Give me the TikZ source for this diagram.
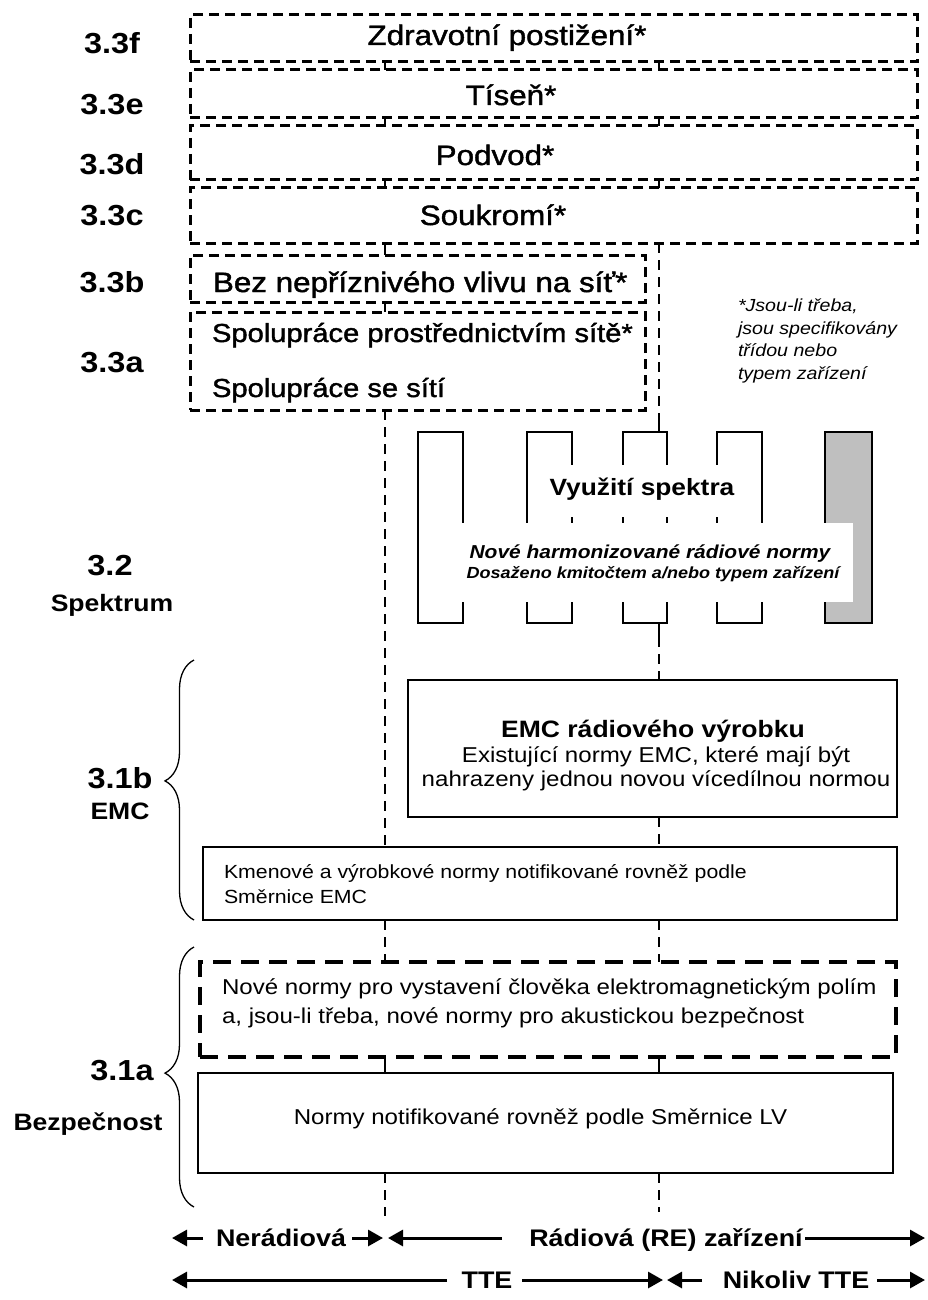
\documentclass[tikz,border=0pt]{standalone}
\usepackage{fontspec}
\setmainfont{Liberation Sans}[FakeStretch=1.12]
\newfontfamily\medfont{Liberation Sans}[FakeStretch=1.12, FakeBold=1.5]
\usetikzlibrary{arrows.meta,decorations.pathreplacing,calc}
\newcommand\fsz[1]{\fontsize{#1}{#1}\selectfont}
\begin{document}
\begin{tikzpicture}[x=1pt,y=-1pt,
  base/.style={inner sep=0pt, outer sep=0pt},
  dbox/.style={base, draw, line width=3pt, dash pattern=on 10pt off 6pt},
  nbox/.style={base, draw, line width=3.2pt, dash pattern=on 18pt off 10pt},
  sbox/.style={base, draw, line width=2.4pt},
  srect/.style={base, draw, line width=2.4pt},
  cover/.style={base, fill=white},
  txt/.style={base, anchor=base},
  ltxt/.style={base, anchor=base west},
  lab/.style={base, anchor=base, font=\bfseries\fsz{29}},
  labw/.style={base, anchor=base, font=\bfseries\fsz{23.7}},
  vdash/.style={line width=2.4pt, dash pattern=on 10pt off 7pt},
  vsolid/.style={line width=2.4pt},
  arr/.style={line width=3pt, -{Triangle[length=15pt,width=16pt]}},
  brc/.style={decorate, decoration={brace, amplitude=29pt, aspect=#1}, line width=1.3pt},
]
\fill[white] (0,0) rectangle (928,1300);
\useasboundingbox (0,0) rectangle (928,1300);

% --- 3.3 stack ---
\node[dbox, minimum width=727pt, minimum height=47pt] (bf) at (553.5,38.5) {};
\node[dbox, minimum width=727pt, minimum height=48pt] (be) at (553.5,94) {};
\node[dbox, minimum width=727pt, minimum height=54pt] (bd) at (553.5,153) {};
\node[dbox, minimum width=727pt, minimum height=55pt] (bc) at (553.5,215.5) {};
\node[dbox, minimum width=455pt, minimum height=47pt] (bb) at (417.5,278.5) {};
\node[dbox, minimum width=455pt, minimum height=98pt] (ba) at (417.5,361) {};

\node[txt, font=\medfont\fsz{28}] (tf) at (507,45) {Zdravotní postižení*};
\node[txt, font=\medfont\fsz{28}] (te) at (511,105) {Tíseň*};
\node[txt, font=\medfont\fsz{28}] (td) at (495,165) {Podvod*};
\node[txt, font=\medfont\fsz{28}] (tc) at (493,225) {Soukromí*};
\node[ltxt, font=\medfont\fsz{28}] (tb) at (213,292) {Bez nepříznivého vlivu na síť*};
\node[ltxt, font=\medfont\fsz{26}] (ta1) at (212,342) {Spolupráce prostřednictvím sítě*};
\node[ltxt, font=\medfont\fsz{26}] (ta2) at (212,397) {Spolupráce se sítí};

% footnote
\node[ltxt, font=\itshape\fsz{17.5}] (fn1) at (738,311) {*Jsou-li třeba,};
\node[ltxt, font=\itshape\fsz{17.5}] (fn2) at (738,334) {jsou specifikovány};
\node[ltxt, font=\itshape\fsz{17.5}] (fn3) at (738,356) {třídou nebo};
\node[ltxt, font=\itshape\fsz{17.5}] (fn4) at (738,379) {typem zařízení};

% --- labels ---
\node[lab] (l3f) at (112,54) {3.3f};
\node[lab] (l3e) at (112,115) {3.3e};
\node[lab] (l3d) at (112,175) {3.3d};
\node[lab] (l3c) at (112,225) {3.3c};
\node[lab] (l3b) at (112,292) {3.3b};
\node[lab] (l3a) at (112,372) {3.3a};
\node[lab] (l32) at (110,575) {3.2};
\node[labw] (lsp) at (112,611) {Spektrum};
\node[lab] (l31b) at (120,788) {3.1b};
\node[labw] (lemc) at (120,819) {EMC};
\node[lab] (l31a) at (122,1080) {3.1a};
\node[labw] (lbez) at (88,1130) {Bezpečnost};

% --- spectrum ---
\node[srect, minimum width=45pt, minimum height=191pt] (r1) at (440.5,527.5) {};
\node[srect, minimum width=45pt, minimum height=191pt] (r2) at (549.5,527.5) {};
\node[srect, minimum width=44pt, minimum height=191pt] (r3) at (645,527.5) {};
\node[srect, minimum width=45pt, minimum height=191pt] (r4) at (739.5,527.5) {};
\node[srect, fill=black!25, minimum width=47pt, minimum height=191pt] (r5) at (848.5,527.5) {};
\node[cover, minimum width=210pt, minimum height=52pt] (cv1) at (642,491) {};
\node[cover, minimum width=423pt, minimum height=79pt] (cv2) at (641.5,562.5) {};
\node[txt, font=\bfseries\fsz{23.5}] (tsp) at (642,495) {Využití spektra};
\node[txt, font=\bfseries\itshape\fsz{18.7}] (tnh) at (650,558) {Nové harmonizované rádiové normy};
\node[txt, font=\bfseries\itshape\fsz{16.1}] (tdk) at (653,578) {Dosaženo kmitočtem a/nebo typem zařízení};

% --- EMC ---
\node[sbox, minimum width=489pt, minimum height=137pt] (emc) at (652.5,748.5) {};
\node[txt, font=\bfseries\fsz{23.7}] (temc1) at (653,737) {EMC rádiového výrobku};
\node[txt, font=\fsz{21.5}] (temc2) at (656,762) {Existující normy EMC, které mají být};
\node[txt, font=\fsz{21.5}] (temc3) at (656,786) {nahrazeny jednou novou vícedílnou normou};

\node[sbox, minimum width=694pt, minimum height=73pt] (km) at (550,883.5) {};
\node[ltxt, font=\fsz{19}] (tkm1) at (224,878.5) {Kmenové a výrobkové normy notifikované rovněž podle};
\node[ltxt, font=\fsz{19}] (tkm2) at (224,903.5) {Směrnice EMC};

% --- safety ---
\node[nbox, minimum width=696pt, minimum height=95pt] (nd) at (548,1009.5) {};
\node[ltxt, font=\fsz{21.5}] (tnd1) at (222,994.5) {Nové normy pro vystavení člověka elektromagnetickým polím};
\node[ltxt, font=\fsz{21.5}] (tnd2) at (222,1023) {a, jsou-li třeba, nové normy pro akustickou bezpečnost};
\node[sbox, minimum width=695pt, minimum height=100pt] (lv) at (545.5,1123) {};
\node[txt, font=\fsz{21.5}] (tlv) at (540.5,1124.5) {Normy notifikované rovněž podle Směrnice LV};

% --- braces ---
\draw[brc=0.535] (194,920) -- (194,660);
\draw[brc=0.515] (194,1207) -- (194,947);

% --- vertical connectors ---
\coordinate (v1) at (385,0);
\coordinate (v2) at (659,0);
\foreach \u/\l in {bf/be, be/bd, bd/bc}{
  \draw[vsolid] (\u.south -| v1) -- (\l.north -| v1);
  \draw[vsolid] (\u.south -| v2) -- (\l.north -| v2);
}
\draw[vsolid] (bc.south -| v1) -- (bb.north -| v1);
\draw[vsolid] (bb.south -| v1) -- (ba.north -| v1);
\draw[vdash] (bc.south -| v2) -- ($(r3.north -| v2)+(0,-15)$) coordinate (s1);
\draw[vsolid] (s1) -- (r3.north -| v2);
\draw[vsolid] (r3.south -| v2) -- ($(r3.south -| v2)+(0,14)$) coordinate (s2);
\draw[vdash] (s2) -- (emc.north -| v2);
\draw[vdash] (ba.south -| v1) -- (km.north -| v1);
\draw[vdash] (emc.south -| v2) -- (km.north -| v2);
\draw[vdash] (km.south -| v1) -- (nd.north -| v1);
\draw[vdash] (km.south -| v2) -- (nd.north -| v2);
\draw[vsolid] (nd.south -| v1) -- (lv.north -| v1);
\draw[vsolid] (nd.south -| v2) -- (lv.north -| v2);
\coordinate (e1) at (385,1216);
\coordinate (e2) at (659,1212);
\draw[vdash] (lv.south -| v1) -- (e1);
\draw[vdash] (lv.south -| v2) -- (e2);

% --- bottom arrows ---
\node[txt, font=\bfseries\fsz{24}] (tner) at (281,1246) {Nerádiová};
\node[txt, font=\bfseries\fsz{24}] (trad) at (666,1246) {Rádiová (RE) zařízení};
\node[txt, font=\bfseries\fsz{24}] (ttte) at (487,1288) {TTE};
\node[txt, font=\bfseries\fsz{24}] (tnik) at (796,1288) {Nikoliv TTE};
\coordinate (p1s) at (203,1238); \coordinate (p1e) at (172,1238);
\coordinate (p2s) at (352,1238); \coordinate (p2e) at (383,1238);
\coordinate (p3s) at (502,1238); \coordinate (p3e) at (388,1238);
\coordinate (p4s) at (805,1238); \coordinate (p4e) at (925,1238);
\coordinate (q1s) at (447,1280); \coordinate (q1e) at (172,1280);
\coordinate (q2s) at (522,1280); \coordinate (q2e) at (663,1280);
\coordinate (q3s) at (702,1280); \coordinate (q3e) at (667,1280);
\coordinate (q4s) at (877,1280); \coordinate (q4e) at (925,1280);
\foreach \a in {p1,p2,p3,p4,q1,q2,q3,q4}{
  \draw[arr] (\a s) -- (\a e);
}
\end{tikzpicture}
\end{document}
